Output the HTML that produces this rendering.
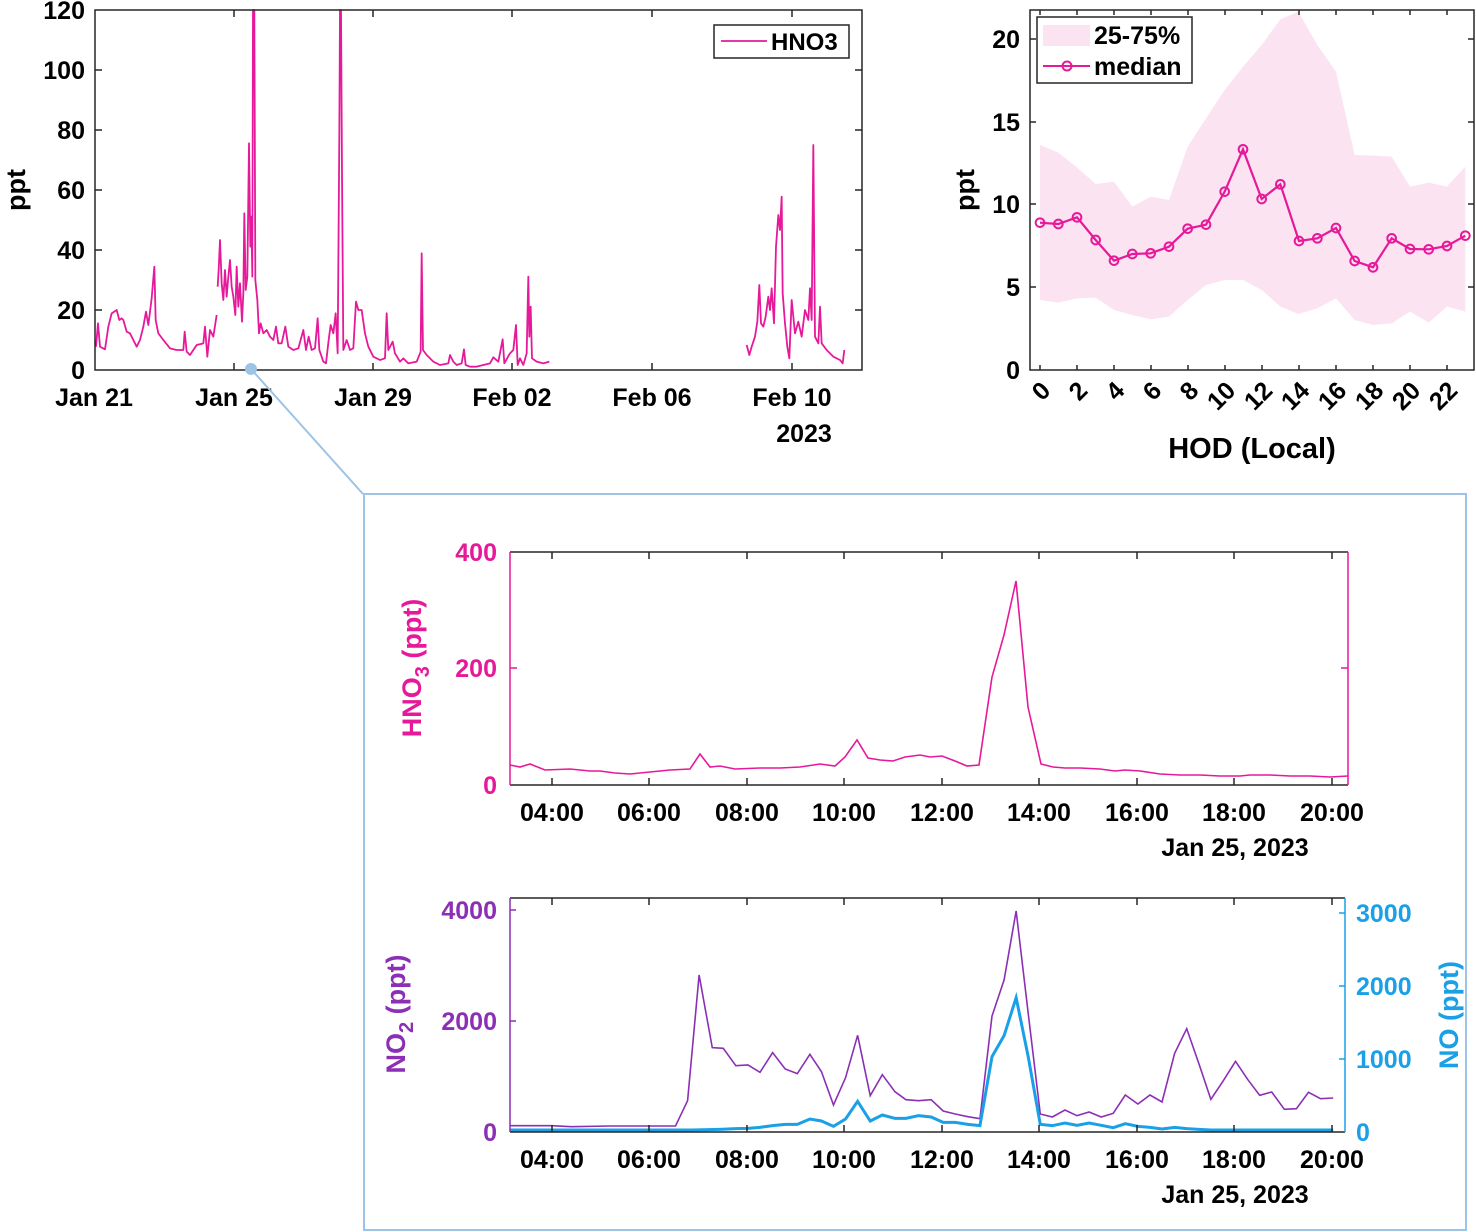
<!DOCTYPE html>
<html><head><meta charset="utf-8"><style>
html,body{margin:0;padding:0;background:#fff}
svg{display:block}
text{font-family:"Liberation Sans",Arial,sans-serif;font-weight:bold}
</style></head><body>
<svg width="1476" height="1232" viewBox="0 0 1476 1232" xmlns="http://www.w3.org/2000/svg">
<!-- ===== Plot 1 ===== -->
<g fill="none" stroke="#e6199a" stroke-width="1.8" stroke-linejoin="round">
<g transform="translate(90,0) scale(0.33333)">
<polyline vector-effect="non-scaling-stroke" points="18,1040 24,970 30,1040 45,1048 55,980 65,940 80,930 88,960 95,955 100,960 110,995 120,1000 130,1020 140,1040 150,1020 160,980 168,935 175,975 185,895 193,800 197,960 205,1000 220,1020 240,1045 260,1050 280,1050 284,995 290,1055 300,1065 320,1035 340,1030 345,980 352,1070 360,990 370,1010 380,945"/>
<polyline vector-effect="non-scaling-stroke" points="383,860 386,810 390,720 395,850 400,900 405,810 410,890 415,830 420,780 425,860 430,890 436,945 440,800 445,920 450,850 456,965 460,880 463,640 467,870 472,830 477,430 481,740 484,650 487,830 489,30 493,30 496,840 502,900 507,1000 512,970 520,1000 530,990 540,1010 550,1020 558,980 565,1030 575,1030 586,980 595,1040 610,1050 625,1045 640,990 648,1050 656,1010 665,1050 675,1045 683,955 688,1050 700,1085 708,1090 716,1020 722,975 730,1000 737,940 743,1060 748,400 750,30 753,30 756,520 760,1050 770,1020 780,1050 790,1045 798,905 805,930 815,930 825,1000 835,1040 850,1070 870,1080 885,1075 890,940 895,1050 908,1025 915,1060 930,1085 940,1075 955,1090 980,1085 992,1055 995,760 999,1050 1010,1065 1030,1085 1050,1095 1075,1090 1080,1065 1090,1085 1100,1095 1115,1090 1122,1048 1127,1095 1140,1100 1160,1100 1180,1095 1200,1090 1210,1072 1225,1085 1238,1018 1243,1090 1260,1060 1270,1050 1278,975 1283,1095 1290,1075 1300,1095 1310,1060 1315,830 1318,1010 1322,920 1326,1075 1340,1085 1360,1090 1378,1085"/>
</g>
<g transform="translate(700,130) scale(0.33333)">
<polyline vector-effect="non-scaling-stroke" points="140,645 148,675 155,650 165,620 172,575 178,465 183,580 190,590 197,560 205,500 210,540 215,475 222,580 228,350 235,255 240,300 245,200 248,490 255,580 262,650 268,685 275,510 285,610 295,575 305,620 315,540 325,570 330,475 335,570 340,45 345,620 355,640 360,530 365,640 380,660 400,680 420,690 428,700 433,660"/>
</g>
</g>
<rect x="95" y="10" width="767" height="360" fill="none" stroke="#262626" stroke-width="1.5"/>
<g stroke="#262626" stroke-width="1.5">
<path d="M95,310h7M95,250h7M95,190h7M95,130h7M95,70h7M862,310h-7M862,250h-7M862,190h-7M862,130h-7M862,70h-7"/>
<path d="M234,370v-7M373,370v-7M512,370v-7M652,370v-7M792,370v-7M234,10v7M373,10v7M512,10v7M652,10v7M792,10v7"/>
</g>
<g font-size="25" text-anchor="end" fill="#000">
<text x="85" y="379">0</text><text x="85" y="319">20</text><text x="85" y="259">40</text><text x="85" y="199">60</text><text x="85" y="139">80</text><text x="85" y="79">100</text><text x="85" y="19">120</text>
</g>
<g font-size="25" text-anchor="middle" fill="#000">
<text x="94" y="406">Jan 21</text><text x="234" y="406">Jan 25</text><text x="373" y="406">Jan 29</text><text x="512" y="406">Feb 02</text><text x="652" y="406">Feb 06</text><text x="792" y="406">Feb 10</text><text x="804" y="442">2023</text>
</g>
<text font-size="27" transform="translate(25,190) rotate(-90)" text-anchor="middle">ppt</text>
<rect x="714" y="25" width="135" height="33" fill="#fff" stroke="#262626" stroke-width="1.5"/>
<line x1="721" y1="41" x2="767" y2="41" stroke="#e6199a" stroke-width="1.8"/>
<text x="771" y="50" font-size="24">HNO3</text>

<!-- ===== Plot 2 ===== -->
<g transform="translate(1020,0) scale(0.33333)">
<polygon fill="#fbe3f1" points="60,435 115,458 171,502 227,552 282,545 337,620 392,590 447,600 503,440 558,355 614,270 669,200 725,135 781,58 835,35 892,135 948,215 1004,465 1059,467 1115,470 1170,560 1226,548 1281,560 1336,500 1336,935 1281,920 1226,968 1170,935 1115,970 1059,975 1004,960 948,895 892,925 835,942 781,920 725,870 669,840 614,840 558,855 503,900 447,950 392,958 337,945 282,930 227,893 171,895 115,908 60,900"/>
<polyline vector-effect="non-scaling-stroke" fill="none" stroke="#e6199a" stroke-width="2.2" points="60,668 115,672 171,652 227,720 282,782 337,762 392,760 447,740 503,686 558,674 614,575 669,448 725,597 781,553 837,723 892,715 948,684 1004,783 1059,802 1115,715 1170,747 1226,748 1281,738 1336,707"/>
<g fill="none" stroke="#e6199a" stroke-width="6">
<circle cx="60" cy="668" r="13"/><circle cx="115" cy="672" r="13"/><circle cx="171" cy="652" r="13"/><circle cx="227" cy="720" r="13"/><circle cx="282" cy="782" r="13"/><circle cx="337" cy="762" r="13"/><circle cx="392" cy="760" r="13"/><circle cx="447" cy="740" r="13"/><circle cx="503" cy="686" r="13"/><circle cx="558" cy="674" r="13"/><circle cx="614" cy="575" r="13"/><circle cx="669" cy="448" r="13"/><circle cx="725" cy="597" r="13"/><circle cx="781" cy="553" r="13"/><circle cx="837" cy="723" r="13"/><circle cx="892" cy="715" r="13"/><circle cx="948" cy="684" r="13"/><circle cx="1004" cy="783" r="13"/><circle cx="1059" cy="802" r="13"/><circle cx="1115" cy="715" r="13"/><circle cx="1170" cy="747" r="13"/><circle cx="1226" cy="748" r="13"/><circle cx="1281" cy="738" r="13"/><circle cx="1336" cy="707" r="13"/>
</g>
</g>
<rect x="1030" y="10" width="444" height="360" fill="none" stroke="#262626" stroke-width="1.5"/>
<g stroke="#262626" stroke-width="1.5">
<path d="M1030,287h6M1030,204h6M1030,122h6M1030,39h6M1474,287h-6M1474,204h-6M1474,122h-6M1474,39h-6"/>
<path d="M1040,370v-5M1077,370v-5M1114,370v-5M1151,370v-5M1188,370v-5M1225,370v-5M1262,370v-5M1299,370v-5M1336,370v-5M1373,370v-5M1410,370v-5M1447,370v-5"/>
<path d="M1040,10v5M1077,10v5M1114,10v5M1151,10v5M1188,10v5M1225,10v5M1262,10v5M1299,10v5M1336,10v5M1373,10v5M1410,10v5M1447,10v5"/>
</g>
<g font-size="25" text-anchor="end">
<text x="1020" y="379">0</text><text x="1020" y="296">5</text><text x="1020" y="213">10</text><text x="1020" y="131">15</text><text x="1020" y="48">20</text>
</g>
<g font-size="25" text-anchor="end">
<text transform="translate(1052,392) rotate(-45)">0</text>
<text transform="translate(1089,392) rotate(-45)">2</text>
<text transform="translate(1126,392) rotate(-45)">4</text>
<text transform="translate(1163,392) rotate(-45)">6</text>
<text transform="translate(1200,392) rotate(-45)">8</text>
<text transform="translate(1237,392) rotate(-45)">10</text>
<text transform="translate(1274,392) rotate(-45)">12</text>
<text transform="translate(1311,392) rotate(-45)">14</text>
<text transform="translate(1348,392) rotate(-45)">16</text>
<text transform="translate(1385,392) rotate(-45)">18</text>
<text transform="translate(1422,392) rotate(-45)">20</text>
<text transform="translate(1459,392) rotate(-45)">22</text>
</g>
<text x="1252" y="458" font-size="29" text-anchor="middle">HOD (Local)</text>
<text font-size="27" transform="translate(974,190) rotate(-90)" text-anchor="middle">ppt</text>
<rect x="1037" y="17" width="155" height="66" fill="#fff" stroke="#262626" stroke-width="1.5"/>
<rect x="1043" y="25" width="47" height="21" fill="#fbe3f1"/>
<text x="1094" y="44" font-size="25">25-75%</text>
<line x1="1043" y1="66" x2="1090" y2="66" stroke="#e6199a" stroke-width="2"/>
<circle cx="1067" cy="66" r="4.5" fill="none" stroke="#e6199a" stroke-width="2"/>
<text x="1094" y="75" font-size="25">median</text>

<!-- ===== connector & inset box ===== -->
<line x1="251" y1="369" x2="363" y2="494" stroke="#9dc3e6" stroke-width="2"/>
<circle cx="251" cy="369" r="6" fill="#9dc3e6"/>
<rect x="364" y="494" width="1102" height="736" fill="none" stroke="#9dc3e6" stroke-width="2"/>

<!-- ===== Plot 3: HNO3 inset ===== -->
<polyline fill="none" stroke="#e6199a" stroke-width="1.6" points="510,765 520,767 530,764 545,770 570,769 590,771 600,771 615,773 630,774 650,772 670,770 690,769 700,754 710,767 720,766 735,769 760,768 780,768 800,767 820,764 835,766 845,757 857,740 868,758 880,760 893,761 905,757 920,755 930,757 942,756 955,761 967,766 979,765 992,677 1004,635 1016,581 1028,707 1041,764 1053,767 1065,768 1080,768 1100,769 1115,771 1125,770 1140,771 1160,774 1180,775 1200,775 1220,776 1240,776 1250,775 1270,775 1290,776 1310,776 1330,777 1348,776"/>
<path d="M510,552H1348M510,785H1348" stroke="#262626" stroke-width="1.5"/>
<path d="M510,552V785M1348,552V785" stroke="#e6199a" stroke-width="1.5"/>
<g stroke="#262626" stroke-width="1.5">
<path d="M552,785v-7M649,785v-7M747,785v-7M844,785v-7M942,785v-7M1039,785v-7M1137,785v-7M1234,785v-7M1332,785v-7"/>
<path d="M552,552v7M649,552v7M747,552v7M844,552v7M942,552v7M1039,552v7M1137,552v7M1234,552v7M1332,552v7"/>
</g>
<path d="M510,668h7M1348,668h-7" stroke="#e6199a" stroke-width="1.5"/>
<g font-size="25" text-anchor="end" fill="#e6199a">
<text x="497" y="794">0</text><text x="497" y="677">200</text><text x="497" y="561">400</text>
</g>
<g font-size="25" text-anchor="middle">
<text x="552" y="821">04:00</text><text x="649" y="821">06:00</text><text x="747" y="821">08:00</text><text x="844" y="821">10:00</text><text x="942" y="821">12:00</text><text x="1039" y="821">14:00</text><text x="1137" y="821">16:00</text><text x="1234" y="821">18:00</text><text x="1332" y="821">20:00</text>
<text x="1235" y="856">Jan 25, 2023</text>
</g>
<text font-size="27" fill="#e6199a" transform="translate(421,668) rotate(-90)" text-anchor="middle">HNO<tspan font-size="20" dy="8">3</tspan><tspan dy="-8"> (ppt)</tspan></text>

<!-- ===== Plot 4: NO2 / NO ===== -->
<g transform="translate(500,890) scale(0.5485,0.33333)" fill="none">
<polyline vector-effect="non-scaling-stroke" stroke="#8b2fb5" stroke-width="1.6" points="18,707 95,707 130,710 200,708 275,708 320,708 342,632 363,255 387,473 407,475 430,527 452,525 474,547 497,488 520,537 542,551 565,493 586,545 608,645 630,563 652,436 675,617 697,554 720,605 740,629 763,632 786,629 808,663 830,672 853,680 875,686 897,378 919,270 941,63 963,370 985,672 1007,681 1030,660 1052,677 1074,666 1096,681 1118,670 1140,615 1163,642 1185,615 1207,636 1230,490 1252,416 1274,520 1296,628 1318,574 1341,514 1363,568 1385,616 1407,606 1430,658 1452,656 1474,607 1496,626 1519,624"/>
<polyline vector-effect="non-scaling-stroke" stroke="#1aa0e6" stroke-width="3" points="18,720 300,720 350,720 400,718 430,716 452,715 474,712 497,707 520,703 542,703 565,687 586,693 608,709 630,687 652,634 675,693 697,675 720,685 740,685 763,677 786,681 808,697 830,697 853,703 875,707 897,500 919,437 941,323 963,500 985,703 1007,707 1030,699 1052,706 1074,699 1096,706 1118,713 1140,701 1163,709 1185,712 1207,717 1230,712 1252,716 1274,718 1296,720 1519,720"/>
</g>
<path d="M510,898H1345M510,1132H1345" stroke="#262626" stroke-width="1.5"/>
<path d="M510,898V1132" stroke="#8b2fb5" stroke-width="1.5"/>
<path d="M1345,898V1132" stroke="#1aa0e6" stroke-width="1.5"/>
<g stroke="#262626" stroke-width="1.5">
<path d="M552,1132v-7M649,1132v-7M747,1132v-7M844,1132v-7M942,1132v-7M1039,1132v-7M1137,1132v-7M1234,1132v-7M1332,1132v-7"/>
<path d="M552,898v7M649,898v7M747,898v7M844,898v7M942,898v7M1039,898v7M1137,898v7M1234,898v7M1332,898v7"/>
</g>
<path d="M510,1021h6M510,910h6" stroke="#8b2fb5" stroke-width="1.5"/>
<path d="M1345,1059h-6M1345,986h-6M1345,913h-6" stroke="#1aa0e6" stroke-width="1.5"/>
<g font-size="25" text-anchor="end" fill="#8b2fb5">
<text x="497" y="1141">0</text><text x="497" y="1030">2000</text><text x="497" y="919">4000</text>
</g>
<g font-size="25" text-anchor="start" fill="#1aa0e6">
<text x="1356" y="1141">0</text><text x="1356" y="1068">1000</text><text x="1356" y="995">2000</text><text x="1356" y="922">3000</text>
</g>
<g font-size="25" text-anchor="middle">
<text x="552" y="1168">04:00</text><text x="649" y="1168">06:00</text><text x="747" y="1168">08:00</text><text x="844" y="1168">10:00</text><text x="942" y="1168">12:00</text><text x="1039" y="1168">14:00</text><text x="1137" y="1168">16:00</text><text x="1234" y="1168">18:00</text><text x="1332" y="1168">20:00</text>
<text x="1235" y="1203">Jan 25, 2023</text>
</g>
<text font-size="27" fill="#8b2fb5" transform="translate(405,1014) rotate(-90)" text-anchor="middle">NO<tspan font-size="20" dy="8">2</tspan><tspan dy="-8"> (ppt)</tspan></text>
<text font-size="27" fill="#1aa0e6" transform="translate(1458,1015) rotate(-90)" text-anchor="middle">NO (ppt)</text>
</svg>
</body></html>
